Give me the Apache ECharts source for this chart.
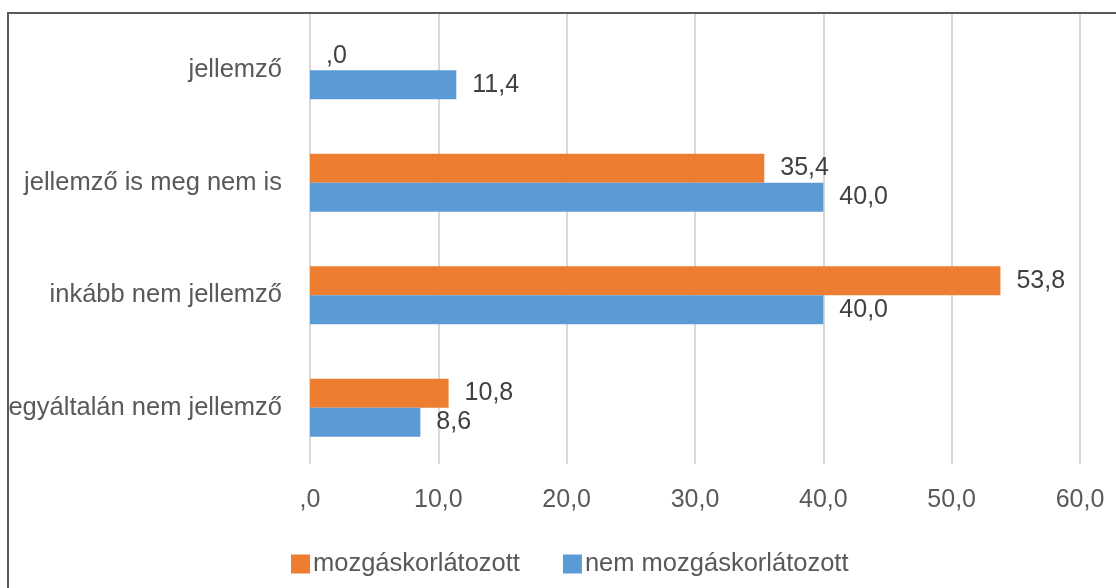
<!DOCTYPE html>
<html>
<head>
<meta charset="utf-8">
<script src="https://cdn.jsdelivr.net/npm/echarts@6/dist/echarts.min.js"></script>
<style>
html,body{margin:0;padding:0;background:#fff;}
#c{width:1116px;height:588px;}
</style>
</head>
<body>
<div id="c"></div>
<script>
const categories = ['egyáltalán nem jellemző', 'inkább nem jellemző', 'jellemző is meg nem is', 'jellemző'];
const seriesNames = ['mozgáskorlátozott', 'nem mozgáskorlátozott'];
const mozgaskorlatozott = [10.8, 53.8, 35.4, 0.0];
const nemMozgaskorlatozott = [8.6, 40.0, 40.0, 11.4];
const xTicks = [0, 10, 20, 30, 40, 50, 60];

function fmt(v) {
  let s = Number(v).toFixed(1).replace('.', ',');
  if (s.startsWith('0,')) s = s.slice(1);
  return s;
}

const font = '"Liberation Sans", Arial, sans-serif';
const chart = echarts.init(document.getElementById('c'));
chart.setOption({
  animation: false,
  backgroundColor: '#fff',
  graphic: [{
    type: 'rect',
    shape: { x: 8, y: 13, width: 1200, height: 700 },
    style: { fill: 'none', stroke: '#595959', lineWidth: 2 },
    silent: true
  }],
  grid: { left: 310, right: 36, top: 14, bottom: 124, containLabel: false },
  legend: {
    data: seriesNames,
    left: 286, top: 546,
    padding: 5,
    icon: 'rect',
    itemWidth: 19, itemHeight: 19,
    itemGap: 43,
    textStyle: { fontFamily: font, fontSize: 25.5, color: '#595959', padding: [0, 0, 0, -2] }
  },
  xAxis: {
    type: 'value',
    min: xTicks[0], max: xTicks[xTicks.length - 1], interval: 10,
    axisLine: { show: false },
    axisTick: { show: false },
    splitLine: { lineStyle: { color: '#d9d9d9', width: 2 } },
    axisLabel: { formatter: fmt, fontFamily: font, fontSize: 25, color: '#595959', margin: 24 }
  },
  yAxis: {
    type: 'category',
    data: categories,
    axisLine: { show: false },
    axisTick: { show: false },
    splitLine: { show: false },
    axisLabel: { fontFamily: font, fontSize: 25.5, color: '#595959', margin: 28 }
  },
  series: [
    {
      name: seriesNames[0], type: 'bar', data: mozgaskorlatozott,
      itemStyle: { color: '#ED7D31' },
      barWidth: 29, barGap: '0%',
      label: { show: true, position: 'right', distance: 16, formatter: p => fmt(p.value),
        fontFamily: font, fontSize: 25, color: '#404040' }
    },
    {
      name: seriesNames[1], type: 'bar', data: nemMozgaskorlatozott,
      itemStyle: { color: '#5B9BD5' },
      barWidth: 29, barGap: '0%',
      label: { show: true, position: 'right', distance: 16, formatter: p => fmt(p.value),
        fontFamily: font, fontSize: 25, color: '#404040' }
    }
  ]
});
</script>
</body>
</html>
